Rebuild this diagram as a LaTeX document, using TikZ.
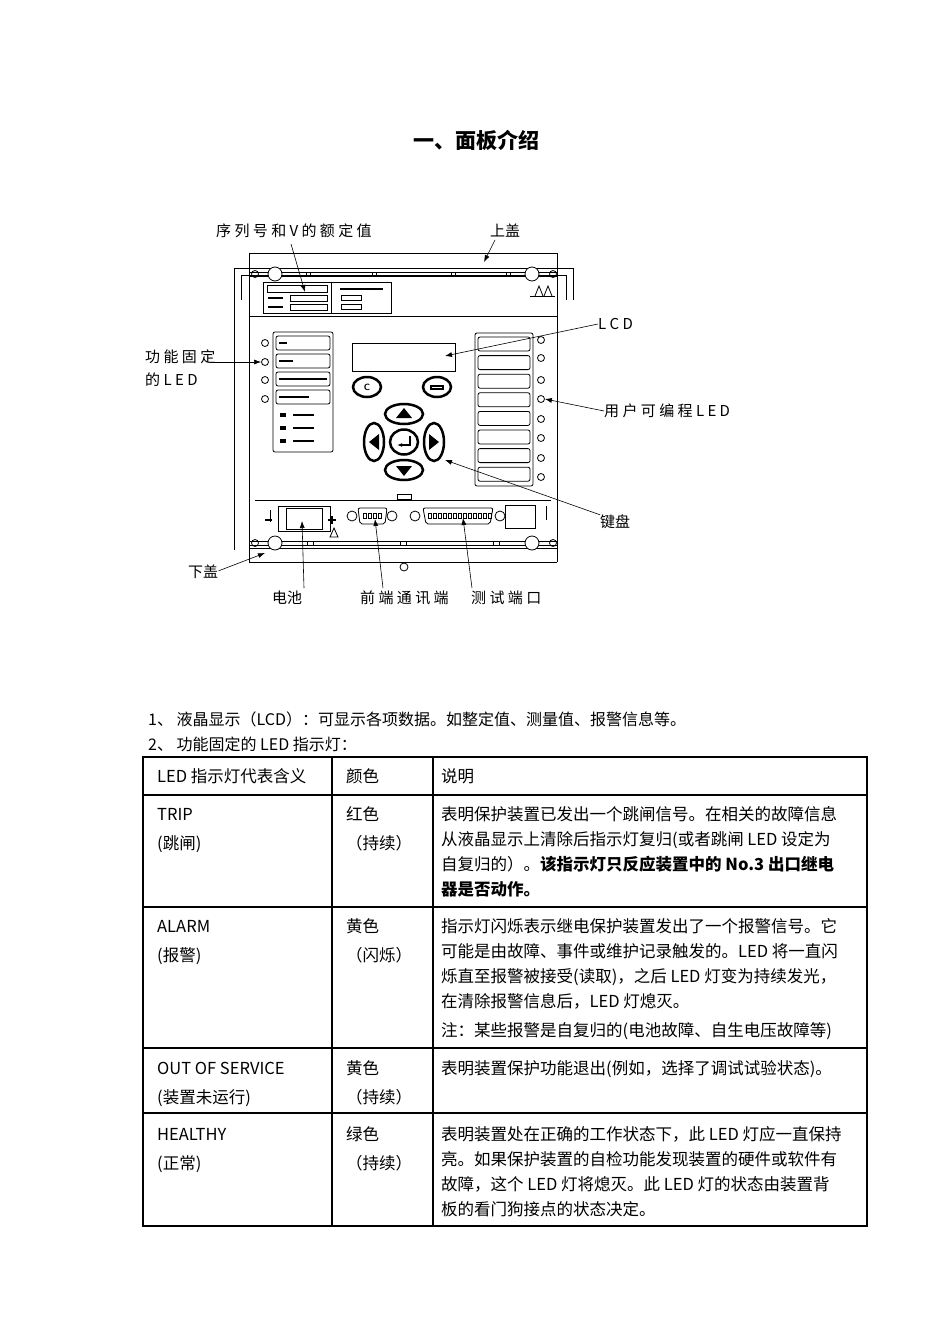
\documentclass[tikz,border=0pt]{standalone}
\usepackage{fontspec}
\setmainfont{Liberation Serif}
\newfontfamily\cjk{Noto Sans CJK SC}
\usetikzlibrary{arrows.meta}
\tikzset{
 pl/.style={line width=0.8pt},
 thk/.style={line width=2pt},
 lbl/.style={font=\cjk\fontsize{15}{15}\selectfont, inner sep=0pt},
 tx/.style={font=\cjk\fontsize{16.5}{16.5}\selectfont, anchor=base west, inner sep=0pt},
 bx/.style={font=\cjk\bfseries\fontsize{16.5}{16.5}\selectfont, anchor=base west, inner sep=0pt},
 ar/.style={line width=0.6pt,-{Latex[length=7pt,width=5pt]}},
 led/.style={pl,draw,circle,minimum size=7pt,inner sep=0pt},
 key/.style={draw,line width=2.5pt,ellipse,inner sep=0pt}
}
\usetikzlibrary{shapes.geometric}
\begin{document}
\begin{tikzpicture}[x=1pt,y=-1pt]
\useasboundingbox[fill=white] (0,0) rectangle (950,1344);
% title
\node[font=\cjk\bfseries\fontsize{21}{21}\selectfont] (title) at (476,140) {一、面板介绍};
% ---------- device ----------
\draw[pl] (249,268) -- (249,253) -- (557,253) -- (557,268);
\draw[pl] (234,550) -- (234,268) -- (573,268) -- (573,300);
\draw[pl] (241,300) -- (241,275) -- (566,275) -- (566,300);
\draw[pl] (249,268) -- (249,548) -- (557,548) -- (557,268);
\draw[pl] (249,272) -- (557,272);
\draw[pl] (249,276) -- (557,276);
\foreach \x in {306,372,451,506}{\draw[pl] (\x,272) rectangle (\x+4,276);}
\draw[pl,fill=white] (275,274) circle (7);
\draw[pl,fill=white] (532,274) circle (7);
\draw[pl] (255,274) circle (3.5);
\draw[pl] (553,274) circle (3.5);
% warning symbols
\draw[pl] (530,296) -- (555,296);
\draw[pl] (535,296) -- (539,286) -- (543,296);
\draw[pl] (544,296) -- (548,286) -- (552,296);
% label plate
\draw[pl] (263,282) rectangle (391,313);
\draw[pl] (331,282) -- (331,313);
\draw[pl] (267,285) rectangle (327,292);
\draw[pl] (290,295) rectangle (327,301);
\draw[pl] (290,304) rectangle (327,310);
\draw[thk] (268,298) -- (283,298);
\draw[thk] (268,307) -- (283,307);
\draw[thk] (340,289) -- (383,289);
\draw[pl] (341,295) rectangle (361,300);
\draw[pl] (341,304) rectangle (361,309);
% front plate
\draw[pl] (249,316) -- (557,316);
\draw[pl] (255,500) -- (551,500);
% left LED column
\draw[pl,rounded corners=2pt] (273,332) rectangle (333,452);
\foreach \y/\l in {336/8,354/14,372/48,390/30}{
 \draw[pl,rounded corners=2pt] (276,\y) rectangle (330,\y+14);
 \draw[thk] (279,\y+7) -- (279+\l,\y+7);}
\foreach \y/\n in {343/a,362/b,380/c,399/d}{\node[led] (L\n) at (265,\y) {};}
\foreach \y in {415,428,441}{\draw[thk] (293,\y) -- (314,\y); \fill (280,\y-2) rectangle (286,\y+2);}
% LCD
\draw[pl] (352,343) rectangle (455,371);
% keys
\node[key,minimum width=28pt,minimum height=20pt] (kc) at (367,387) {\sffamily\bfseries\small C};
\node[key,minimum width=28pt,minimum height=20pt] (kr) at (437,387) {};
\draw[thk] (431,386) rectangle (443,389);
\node[key,minimum width=38pt,minimum height=20pt] (ku) at (404,414) {};
\node[key,minimum width=38pt,minimum height=20pt] (kd) at (404,470) {};
\node[key,minimum width=20pt,minimum height=38pt] (kl) at (374,442) {};
\node[key,minimum width=20pt,minimum height=38pt] (kri) at (434,442) {};
\node[key,minimum width=28pt,minimum height=25pt] (ke) at (404,442) {};
\fill (396,418) -- (404,408) -- (412,418) -- cycle;
\fill (396,466) -- (404,476) -- (412,466) -- cycle;
\fill (379,434) -- (369,442) -- (379,450) -- cycle;
\fill (429,434) -- (439,442) -- (429,450) -- cycle;
\draw[thk,-{Latex[length=5pt]}] (410,436) -- (410,445) -- (397,445);
% right LED column
\draw[pl,rounded corners=2pt] (475,333) rectangle (533,486);
\foreach \i in {0,...,7}{\draw[pl,rounded corners=2pt] (478,337+\i*18.6) rectangle (530,351+\i*18.6);}
\foreach \y/\n in {340/a,358/b,380/c,399/d,419/e,438/f,458/g,477/h}{\node[led] (R\n) at (541,\y) {};}
\draw[pl] (397,494) rectangle (411,499);
% connector strip
\draw[pl] (270,510) -- (270,522);
\draw[thk] (265,520) -- (272,520);
\draw[pl] (278,506) rectangle (330,531);
\draw[pl] (286,508) rectangle (322,529);
\draw[thk] (332,516) -- (332,524); \draw[thk] (328,520) -- (336,520);
\draw[pl] (330,537) -- (334,528) -- (338,537) -- cycle;
\draw[pl] (352,516) circle (5); \draw[pl] (392,516) circle (5);
\draw[pl,rounded corners=2pt] (358,508) -- (387,508) -- (385,524) -- (360,524) -- cycle;
\draw[pl] (415,516) circle (5); \draw[pl] (500,516) circle (5);
\draw[pl,rounded corners=2pt] (423,508) -- (493,508) -- (490,524) -- (426,524) -- cycle;
\foreach \x in {428,433,...,488}{\draw[pl] (\x,513) rectangle (\x+3,518);}
\foreach \x in {363,368,...,380}{\draw[pl] (\x,513) rectangle (\x+3,518);}
\draw[pl] (505,505) rectangle (535,528);
\draw[pl] (546,506) -- (546,520);
% bottom rail
\draw[pl] (249,541) -- (557,541);
\draw[pl] (249,545) -- (557,545);
\draw[pl] (249,562) -- (557,562);
\draw[pl] (249,545) -- (249,562); \draw[pl] (557,545) -- (557,562);
\foreach \x in {307,400,493}{\draw[pl] (\x,541) rectangle (\x+6,545);}
\draw[pl,fill=white] (275,543) circle (7);
\draw[pl,fill=white] (532,543) circle (7);
\draw[pl] (255,543) circle (3.5);
\draw[pl] (553,543) circle (3.5);
\draw[pl] (404,567) circle (4);
% ---------- labels ----------
\node[lbl,anchor=west] (sn) at (216,231) {序 列 号 和 V 的 额 定 值};
\node[lbl] (top) at (505,231) {上盖};
\node[lbl,anchor=west] (lcd) at (598,324) {L C D};
\node[lbl,anchor=west,align=left] (fled) at (145,368) {功 能 固 定\\[8pt]的 L E D};
\node[lbl,anchor=west] (uled) at (604,411) {用 户 可 编 程 L E D};
\node[lbl,anchor=west] (kb) at (600,522) {键盘};
\node[lbl,anchor=west] (bot) at (188,572) {下盖};
\node[lbl,anchor=west] (bat) at (272,598) {电池};
\node[lbl,anchor=west] (fp) at (360,598) {前 端 通 讯 端};
\node[lbl,anchor=west] (tp) at (471,598) {测 试 端 口};
\coordinate (p1) at (291,244); \coordinate (q1) at (305,292);
\draw[ar] (p1) -- (q1);
\coordinate (p2) at (495,240); \coordinate (q2) at (484,262);
\draw[ar] (p2) -- (q2);
\coordinate (q3) at (445,356);
\draw[ar] (lcd.west) -- (q3);
\draw[ar] ([xshift=-3pt]fled.east|-Lb) -- (Lb.west);
\draw[ar] (uled.west) -- (Rd.east);
\coordinate (q6) at (445,460);
\draw[ar] (kb.north west) -- (q6);
\coordinate (q7) at (265,553);
\draw[ar] ([yshift=-6pt]bot.north east) -- (q7);
\coordinate (q8) at (302,521); \coordinate (p8) at (304,588);
\draw[ar] (p8) -- (q8);
\coordinate (q9) at (375,519); \coordinate (p9) at (383,588);
\draw[ar] (p9) -- (q9);
\coordinate (q10) at (463,518); \coordinate (p10) at (472,588);
\draw[ar] (p10) -- (q10);
% ---------- text ----------
\node[tx,font=\fontsize{16}{16}\selectfont\cjk] (l1) at (148,725) {1、 液晶显示（LCD）：可显示各项数据。如整定值、测量值、报警信息等。};
\node[tx,font=\fontsize{16}{16}\selectfont\cjk] (l2) at (148,750) {2、 功能固定的 LED 指示灯：};
% ---------- table ----------
\draw[line width=1.2pt] (143,757) rectangle (867,1226);
\foreach \y in {795,907,1048}{\draw[line width=1.2pt] (143,\y) -- (867,\y);}
\draw[line width=2pt] (143,1113) -- (867,1113);
\draw[line width=1.2pt] (332,757) -- (332,1226);
\draw[line width=1.2pt] (433,757) -- (433,1226);
\node[tx] (h1) at (157,782) {LED 指示灯代表含义};
\node[tx] (h2) at (346,782) {颜色};
\node[tx] (h3) at (441,782) {说明};
% TRIP
\node[tx] (a1) at (157,820) {TRIP};
\node[tx] (a2) at (157,849) {(跳闸)};
\node[tx] (a3) at (346,820) {红色};
\node[tx] (a4) at (346,849) {（持续）};
\node[tx] (a5) at (441,820) {表明保护装置已发出一个跳闸信号。在相关的故障信息};
\node[tx] (a6) at (441,845) {从液晶显示上清除后指示灯复归(或者跳闸 LED 设定为};
\node[tx] (a7) at (441,870) {自复归的）。\textbf{该指示灯只反应装置中的 No.3 出口继电}};
\node[bx] (a8) at (441,895) {器是否动作。};
% ALARM
\node[tx] (b1) at (157,932) {ALARM};
\node[tx] (b2) at (157,961) {(报警)};
\node[tx] (b3) at (346,932) {黄色};
\node[tx] (b4) at (346,961) {（闪烁）};
\node[tx] (b5) at (441,932) {指示灯闪烁表示继电保护装置发出了一个报警信号。它};
\node[tx] (b6) at (441,957) {可能是由故障、事件或维护记录触发的。LED 将一直闪};
\node[tx] (b7) at (441,982) {烁直至报警被接受(读取)，之后 LED 灯变为持续发光，};
\node[tx] (b8) at (441,1007) {在清除报警信息后，LED 灯熄灭。};
\node[tx] (b9) at (441,1036) {注：某些报警是自复归的(电池故障、自生电压故障等)};
% OOS
\node[tx] (c1) at (157,1074) {OUT OF SERVICE};
\node[tx] (c2) at (157,1103) {(装置未运行)};
\node[tx] (c3) at (346,1074) {黄色};
\node[tx] (c4) at (346,1103) {（持续）};
\node[tx] (c5) at (441,1074) {表明装置保护功能退出(例如，选择了调试试验状态)。};
% HEALTHY
\node[tx] (d1) at (157,1140) {HEALTHY};
\node[tx] (d2) at (157,1169) {(正常)};
\node[tx] (d3) at (346,1140) {绿色};
\node[tx] (d4) at (346,1169) {（持续）};
\node[tx] (d5) at (441,1140) {表明装置处在正确的工作状态下，此 LED 灯应一直保持};
\node[tx] (d6) at (441,1165) {亮。如果保护装置的自检功能发现装置的硬件或软件有};
\node[tx] (d7) at (441,1190) {故障，这个 LED 灯将熄灭。此 LED 灯的状态由装置背};
\node[tx] (d8) at (441,1215) {板的看门狗接点的状态决定。};
\end{tikzpicture}
\end{document}
